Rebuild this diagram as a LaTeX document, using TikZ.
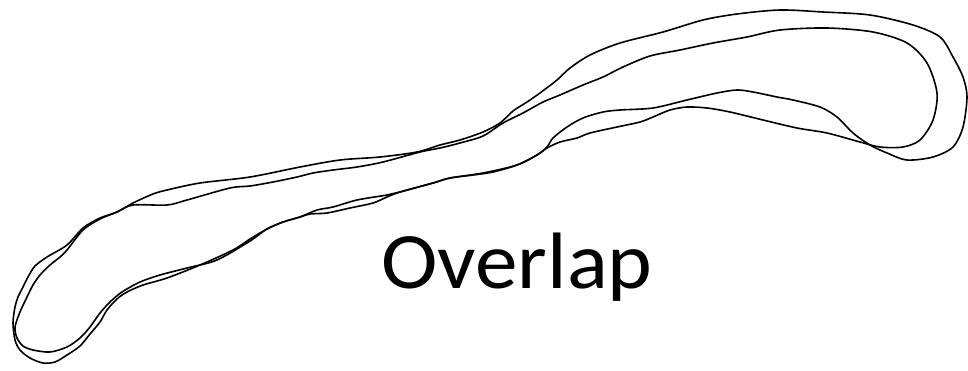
\documentclass[tikz,border=0pt]{standalone}
\usepackage{fontspec}
\setmainfont{Carlito}
\begin{document}
\begin{tikzpicture}[x=1pt,y=-1pt]
     \tikzset{outline/.style={line width=1.6pt,black}}
     \useasboundingbox (0,0) rectangle (968,370);
     % Outer outline
     \draw[outline] plot[smooth cycle,tension=0.5] coordinates {
       (67,245) (83,228) (100,218) (117,212) (133,203) (153,194) (167,190)
       (200,183) (250,177) (300,167) (340,160) (380,157) (417,152) (440,145)
       (460,140) (483,132) (500,123) (513,111) (527,102) (540,93) (557,80)
       (570,68) (590,55) (620,43) (663,32) (703,20) (737,14) (780,10)
       (823,12) (870,15) (913,25) (940,37) (953,57) (963,77) (967,97)
       (963,127) (953,147) (933,157) (907,160) (887,153) (870,145) (853,133)
       (837,117) (820,107) (793,100) (777,97) (753,92) (737,90) (717,93)
       (687,100) (653,108) (620,110) (603,112) (583,118) (567,127) (553,138)
       (547,147) (537,155) (517,165) (483,173) (450,178) (433,183) (400,192)
       (387,195) (357,200) (333,207) (317,210) (300,217) (283,222) (267,229)
       (250,239) (233,250) (200,265) (167,278) (143,285) (127,292) (117,299)
       (107,310) (100,322) (90,334) (80,346) (67,355) (55,362) (43,363)
       (30,358) (20,350) (15,340) (13,323) (15,307) (18,297) (23,287)
       (28,277) (35,266) (47,257)};
     % Inner outline
     \draw[outline] plot[smooth cycle,tension=0.5] coordinates {
       (67,250) (83,230) (100,219) (117,212) (133,205) (167,205) (187,200)
       (230,188) (250,186) (273,182) (297,177) (313,173) (333,170) (357,167)
       (383,162) (420,152) (440,148) (460,143) (483,136) (503,123) (523,113)
       (543,102) (560,95) (583,85) (603,77) (623,67) (650,56) (680,50)
       (713,43) (747,37) (780,30) (827,28) (873,32) (907,43) (927,63)
       (937,93) (933,120) (920,140) (903,147) (880,147) (860,142) (827,133)
       (797,128) (763,120) (730,112) (707,108) (687,107) (670,110) (653,117)
       (640,122) (617,127) (590,133) (577,138) (560,142) (547,148) (537,155)
       (517,165) (493,172) (473,175) (450,178) (433,183) (400,192) (387,197)
       (373,203) (350,208) (327,213) (310,214) (300,217) (283,222) (267,229)
       (250,241) (217,260) (187,268) (160,275) (140,282) (122,292) (110,302)
       (100,313) (90,327) (80,338) (67,347) (50,352) (33,350) (23,346)
       (17,338) (15,327) (20,312) (27,297) (33,285) (40,275) (50,265)
       (60,257)};
     % Label
     \node[anchor=base west,inner sep=0pt,xscale=1.065,font=\fontsize{80}{80}\selectfont] (label) at (381,288) {Overlap};
\end{tikzpicture}
\end{document}
